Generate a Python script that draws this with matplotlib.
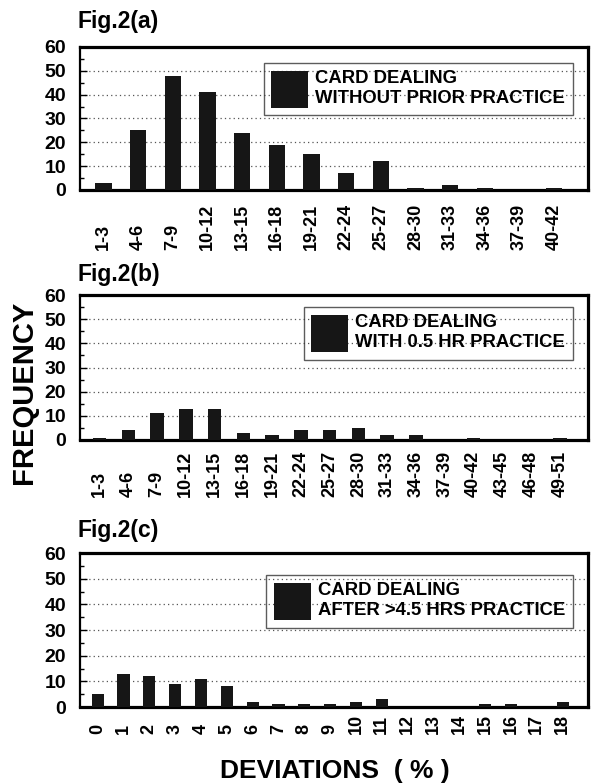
import numpy as np
import matplotlib
matplotlib.use('Agg')
import matplotlib.pyplot as plt
from matplotlib.ticker import MultipleLocator

plt.rcParams['font.family'] = ['Liberation Sans', 'DejaVu Sans']
plt.rcParams['font.weight'] = 'bold'

# Fig.2(a) without prior practice
bins_a = ['1-3', '4-6', '7-9', '10-12', '13-15', '16-18', '19-21', '22-24',
          '25-27', '28-30', '31-33', '34-36', '37-39', '40-42']
freq_a = [3, 25, 48, 41, 24, 19, 15, 7, 12, 1, 2, 1, 0, 1]

# Fig.2(b) with 0.5 hr practice
bins_b = ['1-3', '4-6', '7-9', '10-12', '13-15', '16-18', '19-21', '22-24',
          '25-27', '28-30', '31-33', '34-36', '37-39', '40-42', '43-45',
          '46-48', '49-51']
freq_b = [1, 4, 11, 13, 13, 3, 2, 4, 4, 5, 2, 2, 0, 1, 0, 0, 1]

# Fig.2(c) after >4.5 hrs practice
bins_c = ['0', '1', '2', '3', '4', '5', '6', '7', '8', '9', '10', '11', '12',
          '13', '14', '15', '16', '17', '18']
freq_c = [5, 13, 12, 9, 11, 8, 2, 1, 1, 1, 2, 3, 0, 0, 0, 1, 1, 0, 2]


def draw_panel(ax, labels, freq, name, pad, anchor):
    x = np.arange(len(labels))
    ax.bar(x, freq, width=0.47, color='#161616', label=name, zorder=3)
    ax.set_xlim(-0.68, len(labels) - 0.02)
    ax.set_ylim(0, 60)
    ax.yaxis.set_major_locator(MultipleLocator(10))
    ax.yaxis.set_minor_locator(MultipleLocator(5))
    ax.grid(axis='y', which='major', linestyle=(0, (1, 2.5)), color='#555555', lw=0.9, zorder=1)
    ax.set_xticks(x, labels, rotation=90, va='bottom', fontsize=13)
    ax.tick_params(axis='x', length=0, pad=pad)
    ax.tick_params(axis='y', which='major', direction='in', length=5, width=1, labelsize=14, pad=10)
    ax.tick_params(axis='y', which='minor', direction='in', length=3, width=1)
    for s in ['top', 'bottom', 'right']:
        ax.spines[s].set_linewidth(2.3)
    ax.spines['left'].set_linewidth(1.6)
    leg = ax.legend(loc='upper right', bbox_to_anchor=anchor, borderaxespad=0,
                    fontsize=13.3, handlelength=2.0, handleheight=2.7, handletextpad=0.4,
                    borderpad=0.4, fancybox=False, frameon=True)
    leg.get_frame().set_facecolor('none')
    leg.get_frame().set_edgecolor('#333333')
    leg.get_frame().set_linewidth(1.0)


fig = plt.figure(figsize=(5.99, 7.84), dpi=100)
ax_a = fig.add_axes([0.1336, 0.7577, 0.848, 0.1824])
ax_b = fig.add_axes([0.1336, 0.4388, 0.848, 0.1849])
ax_c = fig.add_axes([0.1336, 0.0982, 0.848, 0.1964])

draw_panel(ax_a, bins_a, freq_a, 'CARD DEALING\nWITHOUT PRIOR PRACTICE', 43, (0.970, 0.888))
draw_panel(ax_b, bins_b, freq_b, 'CARD DEALING\nWITH 0.5 HR PRACTICE', 41, (0.970, 0.917))
draw_panel(ax_c, bins_c, freq_c, 'CARD DEALING\nAFTER >4.5 HRS PRACTICE', 19.5, (0.970, 0.857))

fig.text(0.13, 0.964, 'Fig.2(a)', fontsize=16.5, va='baseline')
fig.text(0.13, 0.6416, 'Fig.2(b)', fontsize=16.5, va='baseline')
fig.text(0.13, 0.315, 'Fig.2(c)', fontsize=16.5, va='baseline')

fig.text(0.04, 0.5, 'FREQUENCY', fontsize=21, rotation=90, ha='center', va='center')
fig.text(0.559, 0.008, 'DEVIATIONS  ( % )', fontsize=19, ha='center', va='baseline')

fig.savefig('out.png', dpi=100)
